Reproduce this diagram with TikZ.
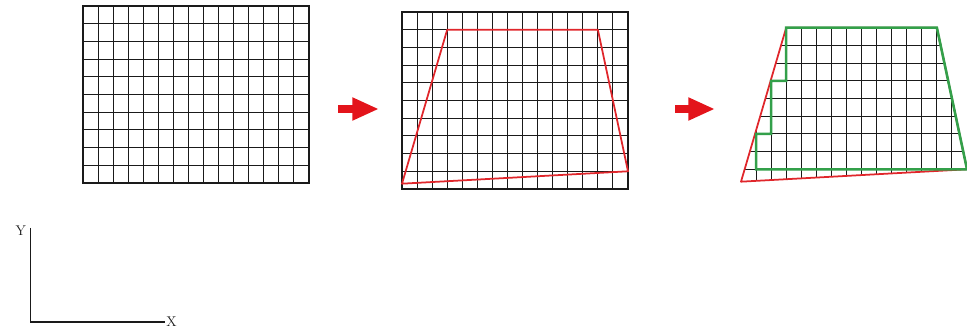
\documentclass[tikz,border=0pt]{standalone}
\usepackage{xcolor}
\usepackage{tikz}
\usetikzlibrary{arrows.meta, positioning}
\definecolor{warpRed}{HTML}{E0262B}
\definecolor{keepGreen}{HTML}{33A04A}
\definecolor{arrowRed}{HTML}{E3141B}
\definecolor{ink}{HTML}{1A1A1A}

\begin{document}
\begin{tikzpicture}[
  every node/.style={font=\large, color=ink, inner sep=1pt},
  gridline/.style={draw=ink, line width=0.9pt, xstep=0.452cm, ystep=0.531cm},
  frame/.style={draw=ink, line width=1.9pt},
  warp/.style={draw=warpRed, line width=1.5pt, line join=round},
  keep/.style={draw=keepGreen, line width=2.2pt, line join=miter},
  bigarr/.style={-{Triangle[length=0.8cm, width=0.64cm]}, draw=arrowRed, line width=6.8pt},
  axis/.style={draw=ink, line width=0.9pt}
]
\useasboundingbox (0,0) rectangle (29.01,9.93);

% --- Panel 1: original grid ---
\begin{scope}[shift={(2.49,4.44)}, x=0.452cm, y=0.531cm]
  \draw[gridline] (0,0) grid (15,10);
  \draw[frame] (0,0) rectangle (15,10);
\end{scope}

% --- Panel 2: grid with warped outline ---
\begin{scope}[shift={(12.06,4.26)}, x=0.452cm, y=0.531cm]
  \draw[gridline] (0,0) grid (15,10);
  \draw[frame] (0,0) rectangle (15,10);
  \draw[warp] (3,9) -- (13,9) -- (15,1) -- (0,0.3) -- cycle;
\end{scope}

% --- Panel 3: warped grid and kept region ---
\begin{scope}[shift={(22.23,4.32)}, x=0.452cm, y=0.531cm]
  \begin{scope}
    \clip (3,9) -- (13,9) -- (15,1) -- (0,0.3) -- cycle;
    \draw[gridline] (0,0) grid (15,10);
  \end{scope}
  \draw[warp] (3,9) -- (13,9) -- (15,1) -- (0,0.3) -- cycle;
  \draw[keep] (3,9) -- (13,9) -- (15,1) -- (1,1) -- (1,3) -- (2,3) -- (2,6) -- (3,6) -- cycle;
\end{scope}

% --- Step arrows ---
\coordinate (a1s) at (10.14,6.66);
\coordinate (a1e) at (11.37,6.66);
\coordinate (a2s) at (20.25,6.66);
\coordinate (a2e) at (21.45,6.66);
\draw[bigarr] (a1s) -- (a1e);
\draw[bigarr] (a2s) -- (a2e);

% --- Axes ---
\coordinate (org) at (0.92,0.27);
\coordinate (ytop) at (0.92,3.09);
\coordinate (xend) at (4.95,0.27);
\node[anchor=east] (ylab) at ([xshift=-0.1cm, yshift=-0.08cm]ytop) {Y};
\node[anchor=west] (xlab) at ([xshift=0.0cm, yshift=0.0cm]xend) {X};
\draw[axis] (ytop) -- (org) -- (xend);

\end{tikzpicture}
\end{document}
